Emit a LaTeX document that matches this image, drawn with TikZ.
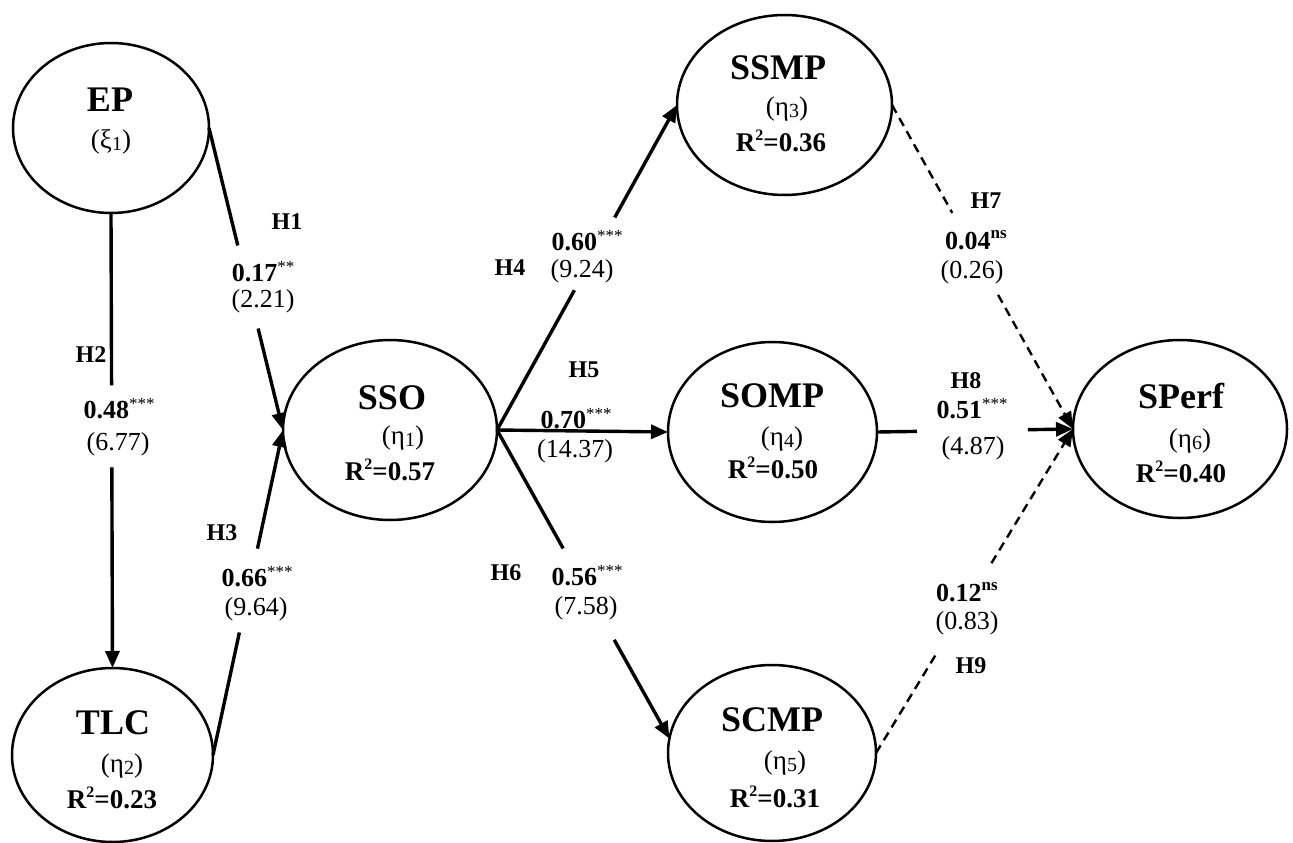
\documentclass[tikz,border=0pt]{standalone}
\usepackage{fontspec}
\setmainfont{Liberation Serif}
\usetikzlibrary{shapes.geometric,arrows.meta,calc}

% small raised / lowered pieces of text
\newcommand\lvsub[1]{\raisebox{-2pt}{\fontsize{20}{20}\selectfont #1}}
\newcommand\rtwo{\raisebox{10.5pt}{\fontsize{16}{16}\selectfont 2}}
\newcommand\stars[1]{\raisebox{9pt}{\fontsize{17}{17}\selectfont\mdseries #1}}
\newcommand\nsig{\raisebox{11pt}{\fontsize{17}{17}\selectfont\bfseries ns}}

% a path broken in the middle where its estimates stand
\newcommand\splitpath[5]{%
  \draw[#1] (#2) -- ($(#2)!#4!(#3)$);
  \draw[#1,tip] ($(#2)!#5!(#3)$) -- (#3);}

\tikzset{
  construct/.style={draw, line width=2.5pt, ellipse, inner sep=0pt, outer sep=0pt},
  sigpath/.style={line width=3.4pt},
  nspath/.style={line width=2.4pt, dash pattern=on 9pt off 6pt},
  tip/.style={-{Triangle[length=17pt,width=14pt]}},
  ttl/.style={font=\fontsize{36}{36}\selectfont\bfseries, inner sep=0pt},
  lv/.style={font=\fontsize{27}{27}\selectfont, inner sep=0pt},
  rsq/.style={font=\fontsize{27}{27}\selectfont\bfseries, inner sep=0pt},
  hyp/.style={font=\fontsize{24}{24}\selectfont\bfseries, inner sep=0pt},
  coef/.style={font=\fontsize{26}{26}\selectfont\bfseries, inner sep=0pt},
  tval/.style={font=\fontsize{26}{26}\selectfont, inner sep=0pt},
}

\begin{document}
\begin{tikzpicture}[x=1pt,y=-1pt]
\useasboundingbox (0,0) rectangle (1293,843);

% constructs
\node[construct, minimum width=196pt, minimum height=170pt] (ep)    at (111,128)   {};
\node[construct, minimum width=201pt, minimum height=174pt] (tlc)   at (112.5,755) {};
\node[construct, minimum width=214pt, minimum height=180pt] (sso)   at (390,430)   {};
\node[construct, minimum width=215pt, minimum height=180pt] (ssmp)  at (784.5,105) {};
\node[construct, minimum width=209pt, minimum height=180pt] (somp)  at (772.5,432) {};
\node[construct, minimum width=208pt, minimum height=176pt] (scmp)  at (772,753)   {};
\node[construct, minimum width=214pt, minimum height=178pt] (sperf) at (1180,429)  {};

% construct texts
\node[ttl] (ep-t) at (110,100) {EP};
\node[lv]  (ep-l) at (111,142) {(ξ\lvsub{1})};

\node[ttl] (tlc-t) at (113,723) {TLC};
\node[lv]  (tlc-l) at (122,766) {(η\lvsub{2})};
\node[rsq] (tlc-r) at (112,798) {R\rtwo=0.23};

\node[ttl] (sso-t) at (392,398) {SSO};
\node[lv]  (sso-l) at (403,438) {(η\lvsub{1})};
\node[rsq] (sso-r) at (390,470) {R\rtwo=0.57};

\node[ttl] (ssmp-t) at (778,68)  {SSMP};
\node[lv]  (ssmp-l) at (787,109) {(η\lvsub{3})};
\node[rsq] (ssmp-r) at (781,141) {R\rtwo=0.36};

\node[ttl] (somp-t) at (772,396) {SOMP};
\node[lv]  (somp-l) at (782,439) {(η\lvsub{4})};
\node[rsq] (somp-r) at (773,468) {R\rtwo=0.50};

\node[ttl] (scmp-t) at (772,720) {SCMP};
\node[lv]  (scmp-l) at (785,763) {(η\lvsub{5})};
\node[rsq] (scmp-r) at (775,797) {R\rtwo=0.31};

\node[ttl] (sperf-t) at (1181,396) {SPerf};
\node[lv]  (sperf-l) at (1190,441) {(η\lvsub{6})};
\node[rsq] (sperf-r) at (1181,472) {R\rtwo=0.40};

% structural paths
\splitpath{sigpath}{ep.east}{sso.west}{0.389}{0.664}
\splitpath{sigpath}{ep.south}{tlc.north}{0.379}{0.559}
\splitpath{sigpath}{tlc.east}{sso.west}{0.377}{0.635}
\splitpath{sigpath}{sso.east}{ssmp.west}{0.43}{0.654}
\draw[sigpath,tip] (sso.east) -- (somp.west);
\splitpath{sigpath}{sso.east}{scmp.172}{0.384}{0.68}
\splitpath{nspath}{ssmp.east}{sperf.west}{0.333}{0.586}
\splitpath{sigpath}{somp.east}{sperf.west}{0.204}{0.77}
\splitpath{nspath}{scmp.east}{sperf.west}{0.302}{0.586}

% path estimates
\node[hyp]  (h1) at (287,222) {H1};
\node[coef] (b1) at (263,272) {0.17\stars{**}};
\node[tval] (t1) at (263,301) {(2.21)};

\node[hyp]  (h2) at (91,355)  {H2};
\node[coef] (b2) at (119,409) {0.48\stars{***}};
\node[tval] (t2) at (118,444) {(6.77)};

\node[hyp]  (h3) at (222,533) {H3};
\node[coef] (b3) at (257,577) {0.66\stars{***}};
\node[tval] (t3) at (256,609) {(9.64)};

\node[hyp]  (h4) at (510,268) {H4};
\node[coef] (b4) at (587,241) {0.60\stars{***}};
\node[tval] (t4) at (582,271) {(9.24)};

\node[hyp]  (h5) at (584,370) {H5};
\node[coef] (b5) at (576,419) {0.70\stars{***}};
\node[tval] (t5) at (575,451) {(14.37)};

\node[hyp]  (h6) at (506,573) {H6};
\node[coef] (b6) at (587,576) {0.56\stars{***}};
\node[tval] (t6) at (586,608) {(7.58)};

\node[hyp]  (h7) at (986,201) {H7};
\node[coef] (b7) at (976,240) {0.04\nsig};
\node[tval] (t7) at (972,272) {(0.26)};

\node[hyp]  (h8) at (966,381) {H8};
\node[coef] (b8) at (972,409) {0.51\stars{***}};
\node[tval] (t8) at (973,448) {(4.87)};

\node[coef] (b9) at (967,592) {0.12\nsig};
\node[tval] (t9) at (967,623) {(0.83)};
\node[hyp]  (h9) at (971,666) {H9};
\end{tikzpicture}
\end{document}
